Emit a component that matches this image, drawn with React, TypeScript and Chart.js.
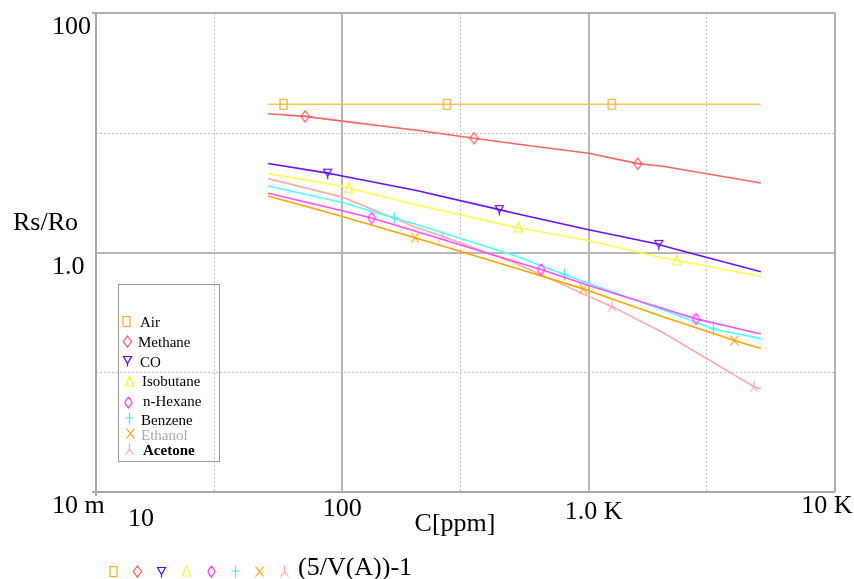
import { useEffect, useRef } from 'react';
import { Chart, registerables } from 'chart.js';
Chart.register(...registerables);

// ---- Data (ppm -> Rs/Ro) ----
const AIR_X = [50, 57.7, 265.6, 1241, 5000];
const AIR_Y = [17.3, 17.3, 17.3, 17.3, 17.3];
const AIR_MARKS = [57.7, 265.6, 1241];

const METHANE_X = [50, 70.6, 100, 200, 342.5, 500, 1000, 1583, 2000, 5000];
const METHANE_Y = [14.4, 13.7, 12.5, 10.5, 9.0, 8.1, 6.75, 5.52, 5.25, 3.8];
const METHANE_MARKS = [70.6, 342.5, 1583];

const CO_X = [50, 87.2, 100, 200, 433.8, 500, 1000, 1926, 2000, 5000];
const CO_Y = [5.53, 4.6, 4.35, 3.3, 2.28, 2.13, 1.55, 1.17, 1.14, 0.69];
const CO_MARKS = [87.2, 433.8, 1926];

const ISO_X = [50, 100, 106.2, 200, 500, 518.4, 1000, 2000, 2280, 5000];
const ISO_Y = [4.56, 3.57, 3.46, 2.5, 1.63, 1.61, 1.26, 0.9, 0.86, 0.63];
const ISO_MARKS = [106.2, 518.4, 2280];

const HEXANE_X = [50, 100, 131.6, 200, 500, 641, 1000, 2000, 2730, 5000];
const HEXANE_Y = [3.13, 2.23, 1.94, 1.5, 0.84, 0.721, 0.53, 0.34, 0.279, 0.209];
const HEXANE_MARKS = [131.6, 641, 2730];

const BENZENE_X = [50, 100, 162.6, 200, 500, 796, 1000, 2000, 3209, 5000];
const BENZENE_Y = [3.59, 2.62, 1.94, 1.71, 0.944, 0.655, 0.55, 0.333, 0.23, 0.191];
const BENZENE_MARKS = [162.6, 796, 3209];

const ETHANOL_X = [50, 100, 197.4, 500, 951, 1000, 2000, 3906, 5000];
const ETHANOL_Y = [2.96, 2.0, 1.33, 0.745, 0.497, 0.48, 0.291, 0.184, 0.158];
const ETHANOL_MARKS = [197.4, 951, 3906];

const ACETONE_X = [50, 100, 200, 255.6, 500, 1000, 1245, 2000, 4695, 5000];
const ACETONE_Y = [4.14, 2.9, 1.62, 1.36, 0.82, 0.43, 0.353, 0.215, 0.0756, 0.073];
const ACETONE_MARKS = [255.6, 1245, 4695];

const SERIES_NAMES = ['Air', 'Methane', 'CO', 'Isobutane', 'n-Hexane', 'Benzene', 'Ethanol', 'Acetone'];

// ---- Axes ----
const X_MIN = 10, X_MAX = 10000, Y_MIN = 0.01, Y_MAX = 100;
const X_GRID_MAJOR = [100, 1000];
const X_GRID_MINOR = [30, 300, 3000];
const Y_GRID_MAJOR = [1];
const Y_GRID_MINOR = [10, 0.1];
const X_TICK_VALUES = [10, 100, 1000, 10000];
const X_TICK_LABELS = ['10', '100', '1.0 K', '10 K'];
const Y_TICK_VALUES = [100, 1, 0.01];
const Y_TICK_LABELS = ['100', '1.0', '10 m'];
const X_TITLE = 'C[ppm]';
const Y_TITLE = 'Rs/Ro';
const BOTTOM_TITLE = '(5/V(A))-1';

// ---- Styles ----
const STYLES = [
  { line: '#FFC457', mark: '#FFA51E', shape: 'rect' },
  { line: '#FF6464', mark: '#FF5050', shape: 'diamond' },
  { line: '#6A10FF', mark: '#5A00FF', shape: 'tridown' },
  { line: '#FFFF50', mark: '#F5F530', shape: 'triup' },
  { line: '#FF50FF', mark: '#FF40FF', shape: 'diamond2' },
  { line: '#50FFFF', mark: '#30F0F0', shape: 'plus' },
  { line: '#FFA500', mark: '#FFA000', shape: 'x' },
  { line: '#FFAAAA', mark: '#FFA0A0', shape: 'lambda' },
];

function makeMarker(shape: string, color: string): HTMLCanvasElement {
  const c = document.createElement('canvas');
  c.width = 13; c.height = 15;
  const g = c.getContext('2d')!;
  g.strokeStyle = color;
  g.lineWidth = 1.2;
  const cx = 6.5, cy = 7.5;
  g.beginPath();
  switch (shape) {
    case 'rect':
      g.rect(cx - 3.5, cy - 5, 7, 10);
      break;
    case 'diamond':
      g.moveTo(cx, cy - 5.5); g.lineTo(cx + 4.2, cy); g.lineTo(cx, cy + 5.5); g.lineTo(cx - 4.2, cy); g.closePath();
      break;
    case 'diamond2':
      g.moveTo(cx, cy - 5.5); g.quadraticCurveTo(cx + 3, cy - 2, cx + 3.5, cy); g.quadraticCurveTo(cx + 3, cy + 2, cx, cy + 5.5);
      g.quadraticCurveTo(cx - 3, cy + 2, cx - 3.5, cy); g.quadraticCurveTo(cx - 3, cy - 2, cx, cy - 5.5);
      break;
    case 'tridown':
      g.moveTo(cx - 4, cy - 4); g.lineTo(cx + 4, cy - 4); g.lineTo(cx, cy + 3); g.closePath();
      g.moveTo(cx, cy + 3); g.lineTo(cx, cy + 6);
      break;
    case 'triup':
      g.moveTo(cx, cy - 5.5); g.lineTo(cx + 4, cy + 4.5); g.lineTo(cx - 4, cy + 4.5); g.closePath();
      break;
    case 'plus':
      g.moveTo(cx, cy - 6); g.lineTo(cx, cy + 6); g.moveTo(cx - 4, cy - 0.5); g.lineTo(cx + 4, cy - 0.5);
      break;
    case 'x':
      g.moveTo(cx - 4, cy - 5); g.lineTo(cx + 4, cy + 5); g.moveTo(cx + 4, cy - 5); g.lineTo(cx - 4, cy + 5);
      break;
    case 'lambda':
      g.moveTo(cx, cy - 6); g.lineTo(cx, cy); g.moveTo(cx - 4, cy + 5); g.lineTo(cx, cy); g.lineTo(cx + 4, cy + 5);
      break;
  }
  g.stroke();
  return c;
}

const SERIES = [
  { x: AIR_X, y: AIR_Y, m: AIR_MARKS },
  { x: METHANE_X, y: METHANE_Y, m: METHANE_MARKS },
  { x: CO_X, y: CO_Y, m: CO_MARKS },
  { x: ISO_X, y: ISO_Y, m: ISO_MARKS },
  { x: HEXANE_X, y: HEXANE_Y, m: HEXANE_MARKS },
  { x: BENZENE_X, y: BENZENE_Y, m: BENZENE_MARKS },
  { x: ETHANOL_X, y: ETHANOL_Y, m: ETHANOL_MARKS },
  { x: ACETONE_X, y: ACETONE_Y, m: ACETONE_MARKS },
];

export default function App() {
  const ref = useRef<HTMLCanvasElement>(null);
  useEffect(() => {
    const markers = STYLES.map((s) => makeMarker(s.shape, s.mark));
    const SERIF = '"Liberation Serif", "Times New Roman", serif';

    const overlay = {
      id: 'overlay',
      beforeDatasetsDraw(chart: any) {
        const { ctx, chartArea: a, scales } = chart;
        const sx = scales.x, sy = scales.y;
        ctx.save();
        // minor dotted grid
        ctx.strokeStyle = '#C2C2C2';
        ctx.lineWidth = 1;
        ctx.setLineDash([2, 2]);
        ctx.beginPath();
        X_GRID_MINOR.forEach((v) => {
          const p = Math.round(sx.getPixelForValue(v)) + 0.5;
          ctx.moveTo(p, a.top); ctx.lineTo(p, a.bottom);
        });
        Y_GRID_MINOR.forEach((v) => {
          const p = Math.round(sy.getPixelForValue(v)) + 0.5;
          ctx.moveTo(a.left, p); ctx.lineTo(a.right, p);
        });
        ctx.stroke();
        ctx.setLineDash([]);
        // major solid grid
        ctx.strokeStyle = '#B8B8B8';
        ctx.lineWidth = 2;
        ctx.beginPath();
        X_GRID_MAJOR.forEach((v) => {
          const p = Math.round(sx.getPixelForValue(v));
          ctx.moveTo(p, a.top); ctx.lineTo(p, a.bottom);
        });
        Y_GRID_MAJOR.forEach((v) => {
          const p = Math.round(sy.getPixelForValue(v));
          ctx.moveTo(a.left, p); ctx.lineTo(a.right, p);
        });
        ctx.stroke();
        // frame
        ctx.strokeStyle = '#B0B0B0';
        ctx.lineWidth = 2;
        ctx.beginPath();
        ctx.moveTo(a.left - 4, a.top); ctx.lineTo(a.right, a.top);
        ctx.moveTo(a.right, a.top); ctx.lineTo(a.right, a.bottom);
        ctx.stroke();
        ctx.strokeStyle = '#A8A8A8';
        ctx.beginPath();
        ctx.moveTo(a.left, a.top); ctx.lineTo(a.left, a.bottom + 4);
        ctx.moveTo(a.left - 4, a.bottom); ctx.lineTo(a.right, a.bottom);
        ctx.stroke();
        ctx.restore();
      },
      afterDraw(chart: any) {
        const { ctx, chartArea: a, scales } = chart;
        const sx = scales.x, sy = scales.y;
        ctx.save();
        ctx.fillStyle = '#000';
        ctx.textBaseline = 'alphabetic';
        ctx.font = '26px ' + SERIF;
        // y tick labels
        ctx.textAlign = 'left';
        Y_TICK_VALUES.forEach((v, i) => {
          ctx.fillText(Y_TICK_LABELS[i], 52, sy.getPixelForValue(v) + 21);
        });
        // x tick labels
        const xOff = [45, 0, 5, -8];
        const yOff = [34, 24, 27, 21];
        ctx.textAlign = 'center';
        X_TICK_VALUES.forEach((v, i) => {
          ctx.fillText(X_TICK_LABELS[i], sx.getPixelForValue(v) + xOff[i], a.bottom + yOff[i]);
        });
        // titles
        ctx.fillText(X_TITLE, 455, 531);
        ctx.textAlign = 'left';
        ctx.fillText(Y_TITLE, 13, 230);
        ctx.fillText(BOTTOM_TITLE, 298, 575);
        // bottom marker row
        const rowX = [113, 137, 161, 186, 211, 235, 259, 284];
        markers.forEach((m, i) => {
          ctx.drawImage(m, Math.round(rowX[i] - m.width / 2), Math.round(571 - m.height / 2));
        });
        // legend box
        ctx.strokeStyle = '#9A9A9A';
        ctx.lineWidth = 1;
        ctx.strokeRect(118.5, 284.5, 101, 177);
        const legY = [326.7, 346.7, 367, 386, 406, 424.5, 440, 455];
        const legMY = [321, 341, 360, 381, 402, 418, 433, 449];
        const legTX = [140, 138, 140, 142, 143, 141, 141, 143];
        const legMX = [126, 127, 127, 129, 128, 129, 130, 129];
        SERIES_NAMES.forEach((name, i) => {
          const m = markers[i];
          ctx.drawImage(m, Math.round(legMX[i] - m.width / 2), Math.round(legMY[i] - m.height / 2));
          ctx.font = (i === 7 ? 'bold ' : '') + '15px ' + SERIF;
          ctx.fillStyle = i === 6 ? '#AAAAAA' : '#000';
          ctx.fillText(name, legTX[i], legY[i]);
        });
        ctx.restore();
      },
    };

    const datasets = SERIES.map((s, i) => ({
      label: SERIES_NAMES[i],
      data: s.x.map((v, j) => ({ x: v, y: s.y[j] })),
      showLine: true,
      borderColor: STYLES[i].line,
      backgroundColor: STYLES[i].line,
      borderWidth: 1.6,
      tension: 0,
      pointStyle: markers[i],
      pointRadius: (c: any) => (c.raw && s.m.includes(c.raw.x) ? 6 : 0),
      pointHoverRadius: 0,
    }));

    const chart = new Chart(ref.current!, {
      type: 'scatter',
      data: { datasets },
      options: {
        responsive: false,
        animation: false,
        devicePixelRatio: 1,
        events: [],
        layout: { padding: { left: 96, top: 13, right: 19, bottom: 87 } },
        scales: {
          x: { type: 'logarithmic', min: X_MIN, max: X_MAX, display: false },
          y: { type: 'logarithmic', min: Y_MIN, max: Y_MAX, display: false },
        },
        plugins: { legend: { display: false }, tooltip: { enabled: false } },
      } as any,
      plugins: [overlay],
    });
    return () => chart.destroy();
  }, []);
  return (
    <div style={{ position: 'fixed', left: 0, top: 0, width: 854, height: 579, background: '#fff' }}>
      <canvas ref={ref} width={854} height={579} style={{ display: 'block', width: 854, height: 579 }} />
    </div>
  );
}
